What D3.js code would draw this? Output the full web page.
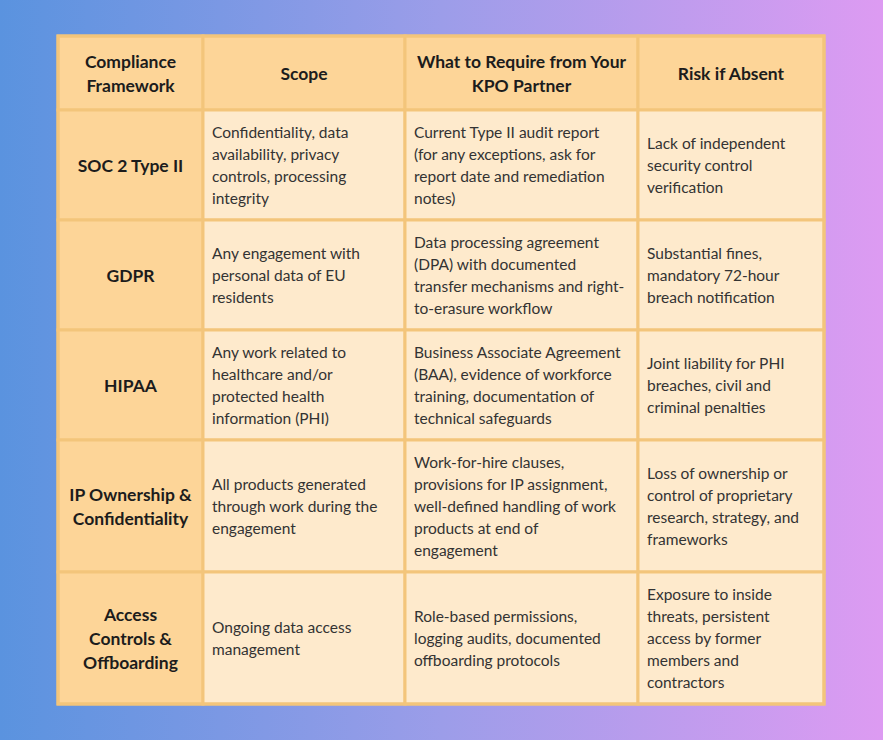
<!DOCTYPE html>
<html>
<head>
<meta charset="utf-8">
<script src="https://cdn.jsdelivr.net/npm/d3@7"></script>
<style>
  html, body { margin: 0; padding: 0; }
  body { width: 883px; height: 740px; overflow: hidden; }
</style>
</head>
<body>
<div id="chart"></div>
<script>
// Table content, lines broken as in the reference
const columns = [
    ["Compliance", "Framework"],
    ["Scope"],
    ["What to Require from Your", "KPO Partner"],
    ["Risk if Absent"]
];

const frameworks = [
    ["SOC 2 Type II"],
    ["GDPR"],
    ["HIPAA"],
    ["IP Ownership &", "Confidentiality"],
    ["Access", "Controls &", "Offboarding"]
];

const scopes = [
    ["Confidentiality, data", "availability, privacy", "controls, processing", "integrity"],
    ["Any engagement with", "personal data of EU", "residents"],
    ["Any work related to", "healthcare and/or", "protected health", "information (PHI)"],
    ["All products generated", "through work during the", "engagement"],
    ["Ongoing data access", "management"]
];

const requirements = [
    ["Current Type II audit report", "(for any exceptions, ask for", "report date and remediation", "notes)"],
    ["Data processing agreement", "(DPA) with documented", "transfer mechanisms and right-", "to-erasure workflow"],
    ["Business Associate Agreement", "(BAA), evidence of workforce", "training, documentation of", "technical safeguards"],
    ["Work-for-hire clauses,", "provisions for IP assignment,", "well-defined handling of work", "products at end of", "engagement"],
    ["Role-based permissions,", "logging audits, documented", "offboarding protocols"]
];

const risks = [
    ["Lack of independent", "security control", "verification"],
    ["Substantial fines,", "mandatory 72-hour", "breach notification"],
    ["Joint liability for PHI", "breaches, civil and", "criminal penalties"],
    ["Loss of ownership or", "control of proprietary", "research, strategy, and", "frameworks"],
    ["Exposure to inside", "threats, persistent", "access by former", "members and", "contractors"]
];

const width = 883, height = 740;
const colEdges = [58, 203, 405, 638, 824];
const tableTop = 36;
const bodyLH = 22, headLH = 24;
const pad = 9;

const rows = frameworks.map((f, i) => [f, scopes[i], requirements[i], risks[i]]);

// Row heights follow the tallest cell
const headH = d3.max(columns, c => c.length) * headLH + 26;
const rowH = rows.map(r => d3.max(r.slice(1), c => c.length) * bodyLH + 22);

const yEdges = [tableTop, tableTop + headH];
rowH.forEach(hh => yEdges.push(yEdges[yEdges.length - 1] + hh));

const x = d3.scaleOrdinal().domain(d3.range(4)).range(colEdges.slice(0, 4));
const w = d3.scaleOrdinal().domain(d3.range(4)).range(d3.pairs(colEdges, (a, b) => b - a));
const y = d3.scaleOrdinal().domain(d3.range(rows.length + 1)).range(yEdges.slice(0, -1));
const h = d3.scaleOrdinal().domain(d3.range(rows.length + 1)).range([headH, ...rowH]);

const svg = d3.select('#chart')
    .append('svg')
    .attr('width', width)
    .attr('height', height);

const defs = svg.append('defs');
const grad = defs.append('linearGradient')
    .attr('id', 'bg')
    .attr('x1', '0%').attr('y1', '0%')
    .attr('x2', '100%').attr('y2', '0%');
grad.append('stop').attr('offset', '0%').attr('stop-color', '#5a93df');
grad.append('stop').attr('offset', '50%').attr('stop-color', '#9c9de9');
grad.append('stop').attr('offset', '100%').attr('stop-color', '#dd9bf2');

svg.append('rect')
    .attr('width', width)
    .attr('height', height)
    .attr('fill', 'url(#bg)');

// Flatten to cells
const cells = [];
columns.forEach((c, j) => cells.push({ r: 0, c: j, lines: c, head: true }));
rows.forEach((row, i) => row.forEach((c, j) => cells.push({ r: i + 1, c: j, lines: c, head: j === 0 })));

const cell = svg.append('g')
    .selectAll('g.cell')
    .data(cells)
    .join('g')
    .attr('class', 'cell');

cell.append('rect')
    .attr('x', d => x(d.c))
    .attr('y', d => y(d.r))
    .attr('width', d => w(d.c))
    .attr('height', d => h(d.r))
    .attr('fill', d => d.head ? '#fdd598' : '#feeacc')
    .attr('stroke', '#f3c57b')
    .attr('stroke-width', 3);

cell.append('text')
    .attr('font-family', 'Lato, sans-serif')
    .attr('font-size', d => d.head ? 17.5 : 15.5)
    .attr('font-weight', d => d.head ? 'bold' : 'normal')
    .attr('fill', d => d.head ? '#1c1c1c' : '#333333')
    .attr('text-anchor', d => d.head ? 'middle' : 'start')
    .each(function (d) {
        const lh = d.head ? headLH : bodyLH;
        const cx = d.head ? x(d.c) + w(d.c) / 2 : x(d.c) + pad;
        const cy = y(d.r) + h(d.r) / 2 - (d.lines.length - 1) * lh / 2;
        d3.select(this)
            .selectAll('tspan')
            .data(d.lines)
            .join('tspan')
            .attr('x', cx)
            .attr('y', (t, k) => cy + k * lh)
            .attr('dominant-baseline', 'central')
            .text(t => t);
    });

// Outer frame
svg.append('rect')
    .attr('x', colEdges[0])
    .attr('y', tableTop)
    .attr('width', colEdges[4] - colEdges[0])
    .attr('height', yEdges[yEdges.length - 1] - tableTop)
    .attr('fill', 'none')
    .attr('stroke', '#f3c57b')
    .attr('stroke-width', 3);
</script>
</body>
</html>
